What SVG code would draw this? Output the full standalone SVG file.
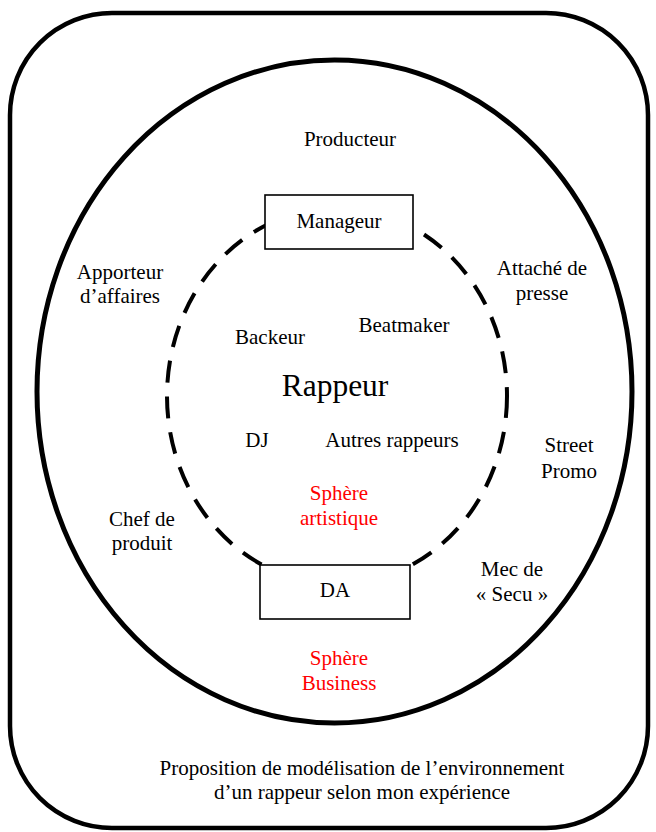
<svg xmlns="http://www.w3.org/2000/svg" width="656" height="832" viewBox="0 0 656 832">
<style>
text{font-family:"Liberation Serif","Times New Roman",serif;font-size:21px;fill:#000;text-anchor:middle}
.red{fill:#ff0000}
.big{font-size:31.5px}
.box{fill:#fff;stroke:#000;stroke-width:1.6}
</style>
<rect id="frame" x="10" y="13" width="638" height="815" rx="102" ry="102" fill="#fff" stroke="#000" stroke-width="4.5"/>
<g id="spheres">
<ellipse id="business-sphere" cx="334.5" cy="391.5" rx="297.5" ry="331.5" fill="none" stroke="#000" stroke-width="5"/>
<ellipse id="artistic-sphere" cx="337" cy="396" rx="170" ry="188" fill="none" stroke="#000" stroke-width="4" stroke-dasharray="22 14"/>
</g>
<g id="connectors"></g>
<g id="manageur"><rect class="box" x="265" y="195" width="148" height="54"/><text x="339" y="228">Manageur</text></g>
<g id="da"><rect class="box" x="260" y="565" width="150" height="54"/><text x="335" y="597">DA</text></g>
<g id="producteur"><text x="350" y="146">Producteur</text></g>
<g id="apporteur"><text x="120" y="279">Apporteur</text><text x="120" y="303">d’affaires</text></g>
<g id="attache"><text x="542" y="275">Attaché de</text><text x="542" y="300">presse</text></g>
<g id="backeur"><text x="270" y="344">Backeur</text></g>
<g id="beatmaker"><text x="404" y="332">Beatmaker</text></g>
<g id="rappeur"><text class="big" x="335" y="396">Rappeur</text></g>
<g id="dj"><text x="257" y="447">DJ</text></g>
<g id="autres"><text x="392" y="447">Autres rappeurs</text></g>
<g id="street"><text x="569" y="452">Street</text><text x="569" y="478">Promo</text></g>
<g id="sphere-artistique"><text class="red" x="339" y="500">Sphère</text><text class="red" x="339" y="525">artistique</text></g>
<g id="chef"><text x="142" y="526">Chef de</text><text x="142" y="550">produit</text></g>
<g id="mec"><text x="512" y="576">Mec de</text><text x="512" y="601">« Secu »</text></g>
<g id="sphere-business"><text class="red" x="339" y="665">Sphère</text><text class="red" x="339" y="690">Business</text></g>
<g id="caption"><text x="362" y="775">Proposition de modélisation de l’environnement</text><text x="362" y="799">d’un rappeur selon mon expérience</text></g>
</svg>
